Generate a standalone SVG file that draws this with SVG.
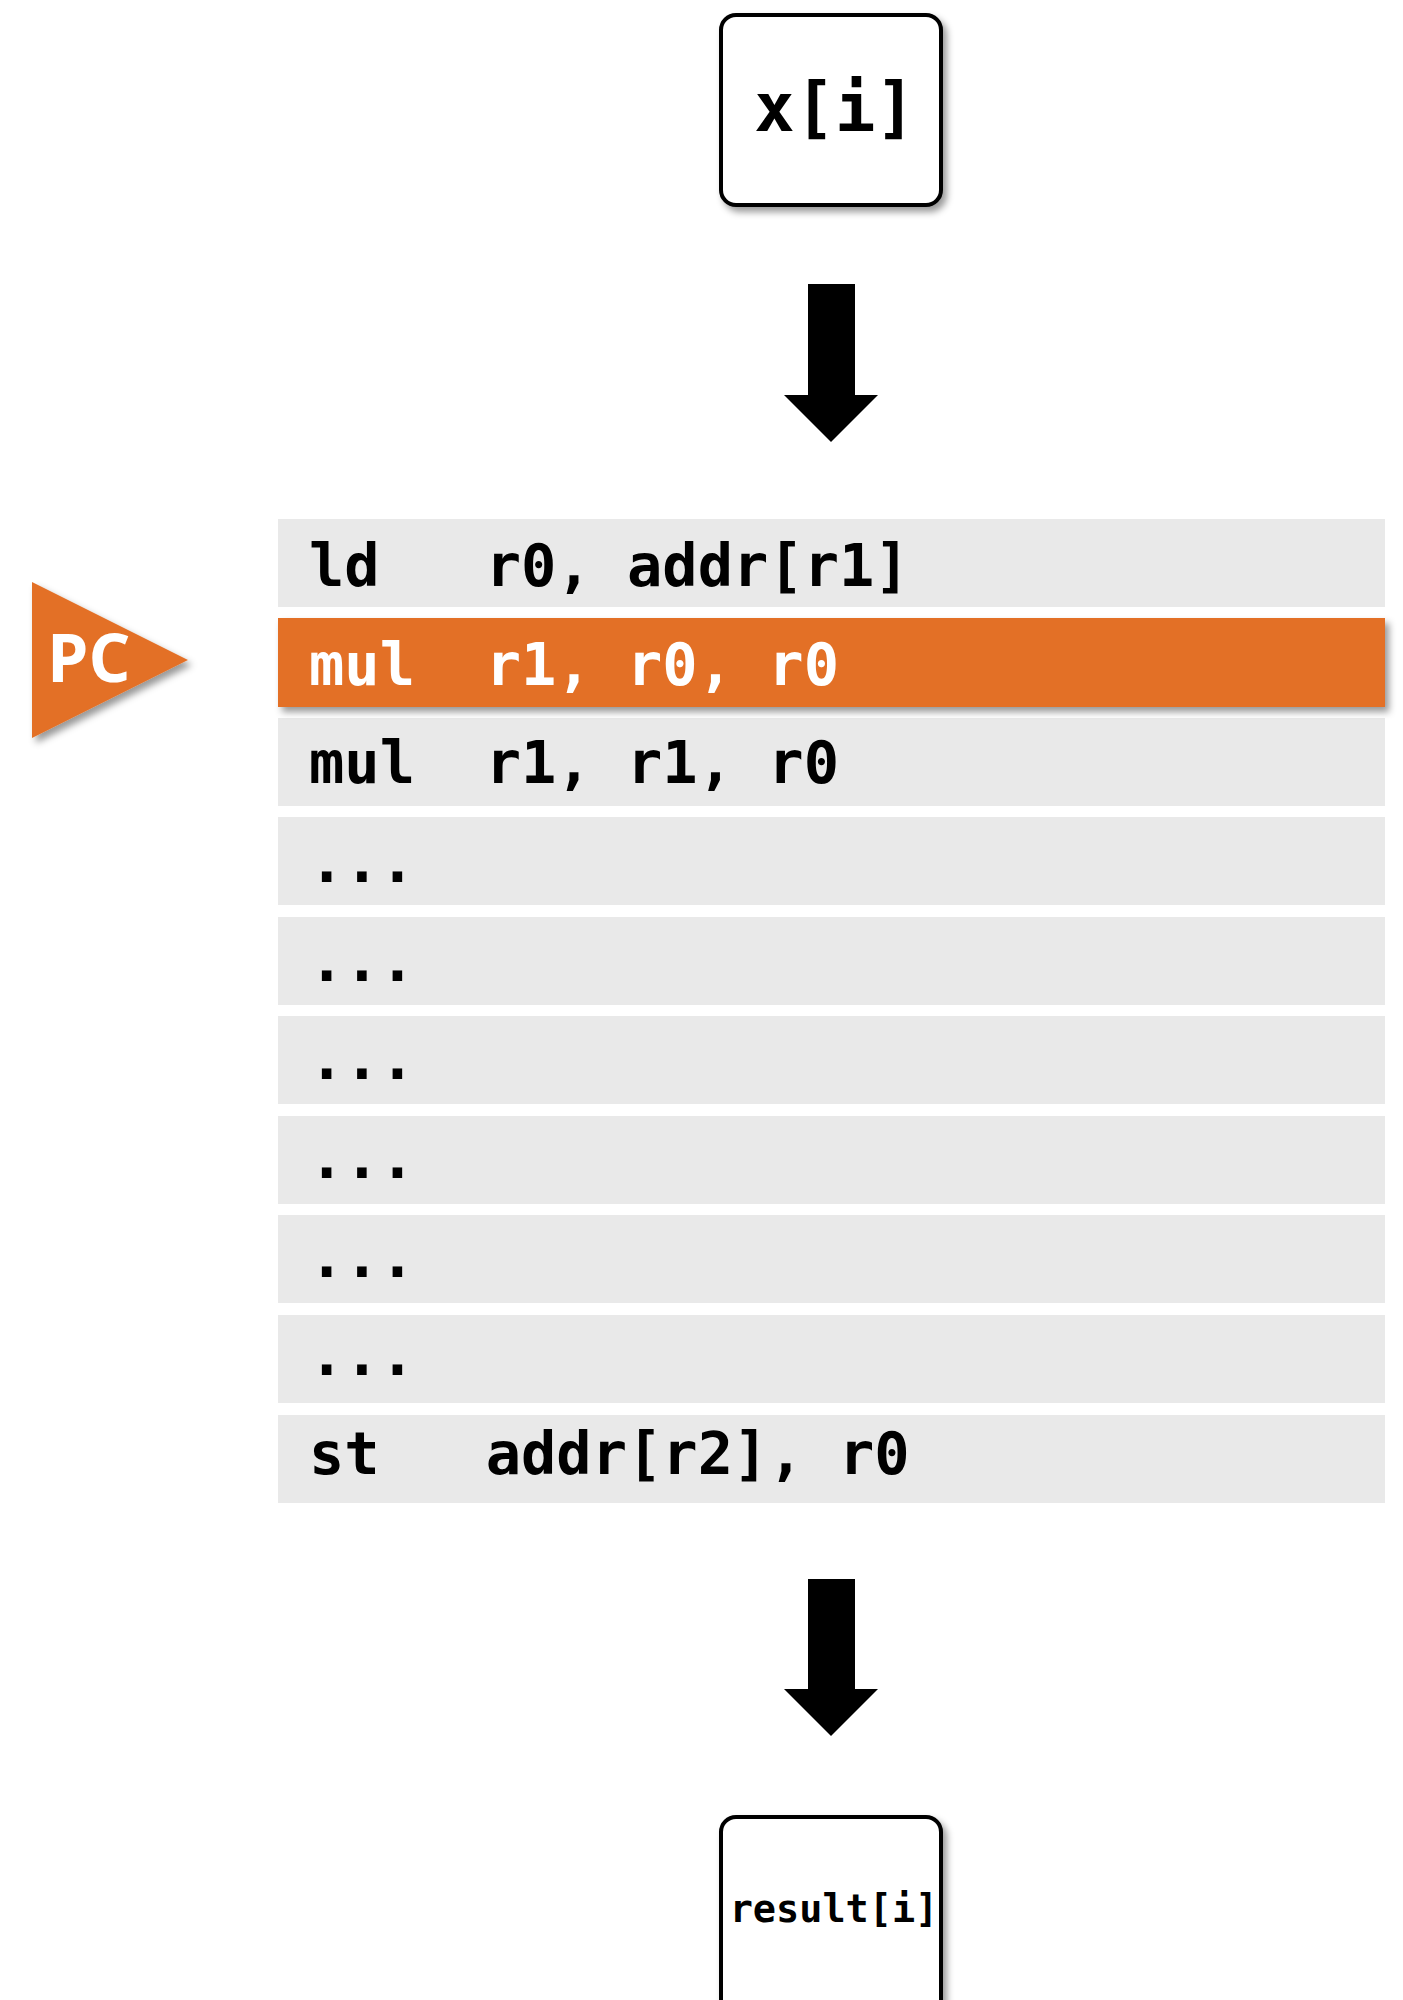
<svg xmlns="http://www.w3.org/2000/svg" width="1403" height="2000" viewBox="0 0 1403 2000">
<defs>
<filter id="sh" x="-10%" y="-10%" width="130%" height="140%">
<feDropShadow dx="4" dy="5" stdDeviation="3.5" flood-color="#000" flood-opacity="0.4"/>
</filter>
<style>
.row{fill:#E9E9E9}
.hl{fill:#E37026}
.code{font-family:"DejaVu Sans Mono","Liberation Mono",monospace;font-weight:bold;font-size:58.7px;fill:#000;white-space:pre}
.w{fill:#fff}
.box{fill:#fff;stroke:#000;stroke-width:4}
.arrow{fill:#000}
</style>
</defs>
<rect width="1403" height="2000" fill="#fff"/>

<g id="input-node">
<rect class="box" x="721" y="15" width="220" height="190" rx="15" filter="url(#sh)"/>
<text x="835" y="131" text-anchor="middle" font-family="DejaVu Sans Mono, Liberation Mono, monospace" font-weight="bold" font-size="67">x[i]</text>
</g>

<g id="program">
<rect class="row" x="278" y="519" width="1107" height="88"/>
<rect class="row" x="278" y="718" width="1107" height="88"/>
<rect class="row" x="278" y="817" width="1107" height="88"/>
<rect class="row" x="278" y="917" width="1107" height="88"/>
<rect class="row" x="278" y="1016" width="1107" height="88"/>
<rect class="row" x="278" y="1116" width="1107" height="88"/>
<rect class="row" x="278" y="1215" width="1107" height="88"/>
<rect class="row" x="278" y="1315" width="1107" height="88"/>
<rect class="row" x="278" y="1415" width="1107" height="88"/>
<rect class="hl" x="278" y="618" width="1107" height="89" filter="url(#sh)"/>
<text class="code" x="309" y="586">ld   r0, addr[r1]</text>
<text class="code w" x="309" y="685">mul  r1, r0, r0</text>
<text class="code" x="309" y="783">mul  r1, r1, r0</text>
<text class="code" x="309" y="882">...</text>
<text class="code" x="309" y="981">...</text>
<text class="code" x="309" y="1079">...</text>
<text class="code" x="309" y="1178">...</text>
<text class="code" x="309" y="1277">...</text>
<text class="code" x="309" y="1375">...</text>
<text class="code" x="309" y="1474">st   addr[r2], r0</text>
</g>

<g id="pc">
<polygon class="hl" points="32,582 188,660 32,738" filter="url(#sh)"/>
<text x="47" y="682" font-family="Open Sans, Noto Sans, sans-serif" font-weight="bold" font-size="66" fill="#fff">PC</text>
</g>

<g id="output-node">
<rect class="box" x="721" y="1817" width="220" height="250" rx="15" filter="url(#sh)"/>
<text x="834" y="1922" text-anchor="middle" font-family="DejaVu Sans Mono, Liberation Mono, monospace" font-weight="bold" font-size="38.5">result[i]</text>
</g>

<g id="connectors">
<polygon class="arrow" points="808,284 855,284 855,395 878,395 831,442 784,395 808,395"/>
<polygon class="arrow" points="808,1579 855,1579 855,1689 878,1689 831,1736 784,1689 808,1689"/>
</g>
</svg>
